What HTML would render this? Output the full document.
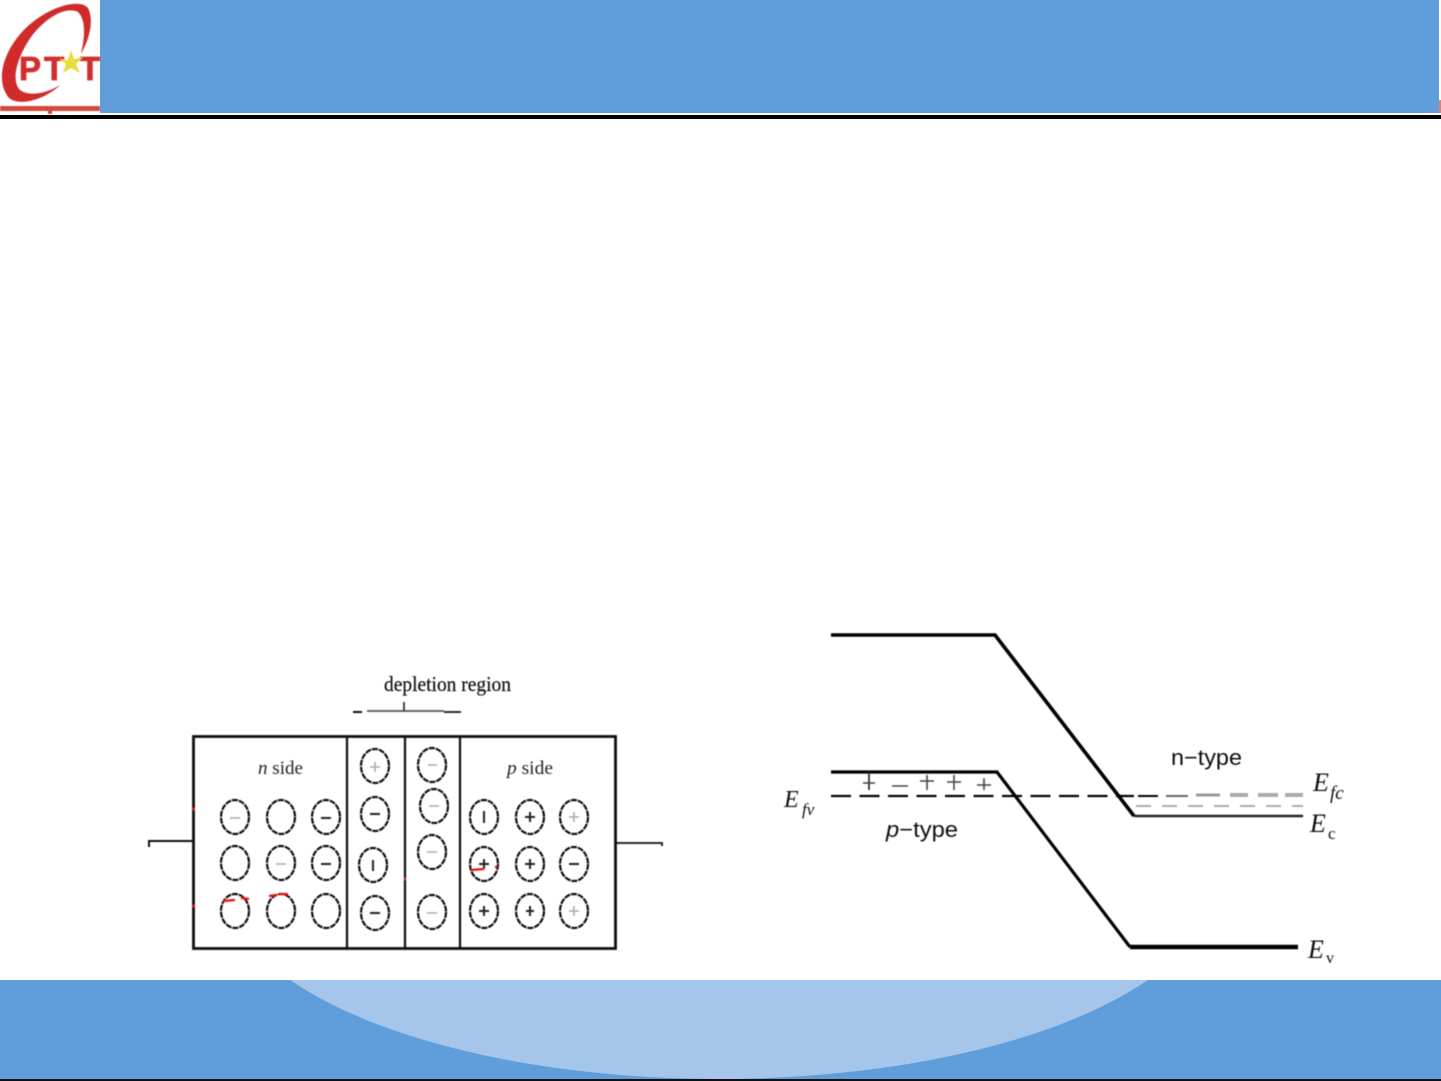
<!DOCTYPE html>
<html><head><meta charset="utf-8"><style>
html,body{margin:0;padding:0;background:#fff}
svg{display:block}
</style></head><body>
<svg width="1441" height="1081" viewBox="0 0 1441 1081" xmlns="http://www.w3.org/2000/svg" font-family="'Liberation Serif',serif">
<defs>
<filter id="b" x="-5%" y="-5%" width="110%" height="110%"><feGaussianBlur stdDeviation="0.6"/></filter>
<clipPath id="f"><rect x="0" y="980" width="1441" height="99"/></clipPath>
</defs>
<rect width="1441" height="1081" fill="#fff"/>
<!-- header -->
<rect x="100" y="0" width="1339" height="113" fill="#5f9ddb"/>
<rect x="1439" y="100" width="2" height="13" fill="#e08070"/>
<rect x="0" y="115" width="1441" height="4" fill="#000"/>
<!-- logo -->
<g filter="url(#b)">
<path d="M9 98 C-6 80 4 48 28 26 C50 6 80 -2 88 8 C94 20 90 38 81 54 C85 36 86 20 78 12 C66 6 46 17 31 37 C18 56 11 78 19 89 C27 97 46 94 60 85 C46 99 20 107 9 98Z" fill="#d02a2a"/>
<text x="19" y="80" font-family="'Liberation Sans',sans-serif" font-weight="bold" font-size="33" fill="#d22f2f" stroke="#d22f2f" stroke-width="0.8" textLength="81" lengthAdjust="spacing">PT&#160;T</text>
<polygon points="71,50 74,59 83,57 76,64 80,73 71,68 63,73 66,64 59,59 68,60" fill="#e6dc3c"/>
<rect x="0" y="106" width="100" height="5" fill="#d24a3c"/>
<rect x="48" y="109" width="4" height="5" fill="#c84a3c"/>
</g>
<!-- footer -->
<rect x="0" y="980" width="1441" height="99" fill="#5f9ddb"/>
<ellipse cx="719" cy="880" rx="496" ry="199" fill="#a5c6ea" clip-path="url(#f)"/>
<rect x="0" y="1079" width="1441" height="2" fill="#111"/>

<g filter="url(#b)">
<!-- left box -->
<g fill="none" stroke="#111">
<rect x="193.5" y="736.5" width="422" height="212" stroke-width="2.8"/>
<path d="M347 736V948M405 736V948M460 736V948" stroke-width="2.2"/>
<path d="M149 847V841H193" stroke-width="2"/>
<path d="M616 843H662V846" stroke-width="1.8"/>
<path d="M353 712H362" stroke-width="2"/>
<path d="M367 711H444" stroke-width="1.8" stroke="#555"/>
<path d="M444 712H461" stroke-width="1.8"/>
<path d="M404 702V711" stroke-width="1.5"/>
</g>
<g fill="none" stroke="#111" stroke-width="2.2" stroke-dasharray="6 1">
<ellipse cx="235" cy="817" rx="14" ry="17"/><ellipse cx="281" cy="817" rx="14" ry="17"/><ellipse cx="326" cy="817" rx="14" ry="17"/>
<ellipse cx="235" cy="863" rx="14" ry="17"/><ellipse cx="281" cy="863" rx="14" ry="17"/><ellipse cx="326" cy="863" rx="14" ry="17"/>
<ellipse cx="235" cy="911" rx="14" ry="17"/><ellipse cx="281" cy="911" rx="14" ry="17"/><ellipse cx="326" cy="911" rx="14" ry="17"/>
<ellipse cx="375" cy="766" rx="14" ry="17"/><ellipse cx="375" cy="814" rx="14" ry="17"/><ellipse cx="373" cy="865" rx="14" ry="17"/><ellipse cx="375" cy="913" rx="14" ry="17"/>
<ellipse cx="432" cy="765" rx="14" ry="17"/><ellipse cx="434" cy="806" rx="14" ry="17"/><ellipse cx="432" cy="852" rx="14" ry="17"/><ellipse cx="432" cy="912" rx="14" ry="17"/>
<ellipse cx="484" cy="817" rx="14" ry="17"/><ellipse cx="530" cy="817" rx="14" ry="17"/><ellipse cx="574" cy="817" rx="14" ry="17"/>
<ellipse cx="484" cy="864" rx="14" ry="17"/><ellipse cx="530" cy="864" rx="14" ry="17"/><ellipse cx="574" cy="864" rx="14" ry="17"/>
<ellipse cx="484" cy="911" rx="14" ry="17"/><ellipse cx="530" cy="911" rx="14" ry="17"/><ellipse cx="574" cy="911" rx="14" ry="17"/>
</g>
<!-- signs grey -->
<g fill="none" stroke="#aaa" stroke-width="1.6">
<path d="M230 818H240M276 864H286M428 765H437M429 806H439M427 852H437M427 913H437"/>
<path d="M370 767H380M375 762V772M569 817H579M574 812V822M569 911H579M574 906V916"/>
</g>
<g fill="none" stroke="#222" stroke-width="2">
<path d="M321 818H331M321 864H331M370 814H380M370 913H380M569 864H579"/>
<path d="M373 860V871M484 811V823"/>
<path d="M525 817H535M530 812V822M479 864H489M484 859V869M525 864H535M530 859V869M479 911H489M484 906V916M526 911H534M530 906V916"/>
</g>
<!-- red marks -->
<g fill="none" stroke="#f01010" stroke-width="2.2">
<path d="M223 901L235 900M241 898L249 899M269 896L276 895M279 894L288 894M471 870L484 869M495 867H497"/>
<path d="M192 809H195M192 906H195M404 879H406"/>
</g>
<g fill="#222" font-size="18">
<text x="384" y="691" textLength="127" lengthAdjust="spacingAndGlyphs" fill="#111" font-size="21" stroke="#111" stroke-width="0.2">depletion region</text>
<text x="258" y="774" textLength="45" lengthAdjust="spacingAndGlyphs" font-size="19"><tspan font-style="italic">n</tspan> side</text>
<text x="507" y="774" textLength="46" lengthAdjust="spacingAndGlyphs" font-size="19"><tspan font-style="italic">p</tspan> side</text>
</g>
<!-- band diagram -->
<g fill="none" stroke="#000">
<path d="M831 635H995L1134 816" stroke-width="3.6"/>
<path d="M1134 816H1303" stroke-width="2.4" stroke="#222"/>
<path d="M831 772H997L1130 947" stroke-width="3.2"/>
<path d="M1130 947H1298" stroke-width="4.6"/>
<path d="M831 796H1134" stroke-width="2.2" stroke-dasharray="20 8.5"/>
<path d="M1138 796H1158" stroke-width="2"/>
<path d="M1166 796H1188" stroke-width="2" stroke="#666"/>
<path d="M1196 795H1220" stroke-width="3" stroke="#999"/>
<path d="M1230 795H1248M1258 795H1278M1285 795H1303" stroke-width="4" stroke="#aaa"/>
<path d="M1136 806H1303" stroke-width="2" stroke="#aaa" stroke-dasharray="15 11"/>
<path d="M869 772V790" stroke-width="1.8" stroke="#333"/>
<path d="M863 783H875M892 786H908M920 781H934M927 775V790M947 782H961M954 775V790M977 785H991M984 778V790" stroke-width="1.6" stroke="#444"/>
</g>
<g fill="#111" font-size="25">
<text x="886" y="837" textLength="72" lengthAdjust="spacingAndGlyphs" font-family="'Liberation Sans',sans-serif" font-size="22"><tspan font-style="italic">p</tspan>−type</text>
<text x="1171" y="765" textLength="71" lengthAdjust="spacingAndGlyphs" font-family="'Liberation Sans',sans-serif" font-size="22">n−type</text>
<text x="784" y="807" font-style="italic" font-size="24">E</text>
<text x="802" y="815" font-size="17" font-style="italic">fv</text>
<text x="1313" y="791" font-style="italic" font-size="26">E</text>
<text x="1330" y="799" font-size="19" font-style="italic">fc</text>
<text x="1310" y="832" font-style="italic" font-size="26">E</text>
<text x="1328" y="839" font-size="17">c</text>
<text x="1308" y="958" font-style="italic" font-size="26">E</text>
<text x="1326" y="963" font-size="16">v</text>
</g>
</g>
</svg>
</body></html>
